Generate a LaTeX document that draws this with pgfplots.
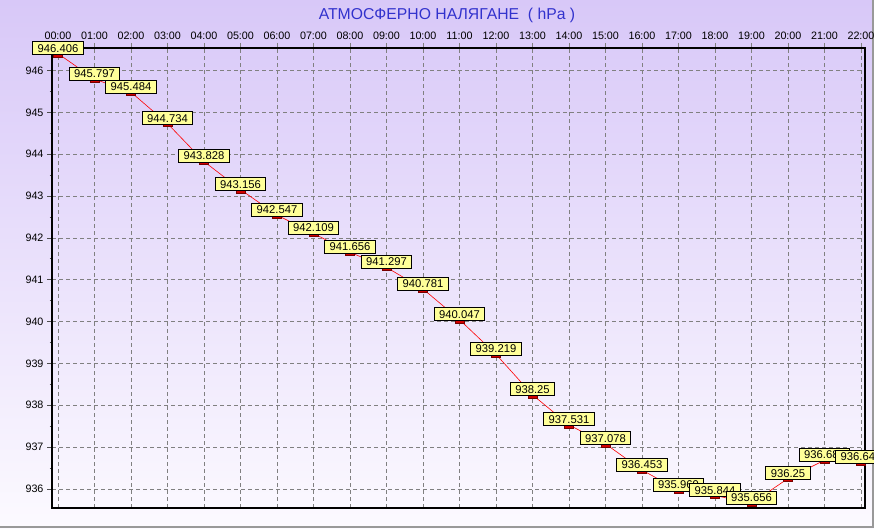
\documentclass[border=0pt]{standalone}
\usepackage{fontspec}
\setmainfont{Liberation Sans}
\usepackage{pgfplots}
\pgfplotsset{compat=1.18}
\usepackage{pgfplotstable}

\definecolor{bgtop}{RGB}{216,200,248}
\definecolor{bgbot}{RGB}{252,250,255}
\definecolor{titleblue}{RGB}{50,50,205}
\definecolor{boxyellow}{RGB}{255,255,153}
\definecolor{markred}{RGB}{210,0,0}
\definecolor{markdark}{RGB}{120,0,0}

\pgfplotstableread{
x y lab
0 946.406 946.406
1 945.797 945.797
2 945.484 945.484
3 944.734 944.734
4 943.828 943.828
5 943.156 943.156
6 942.547 942.547
7 942.109 942.109
8 941.656 941.656
9 941.297 941.297
10 940.781 940.781
11 940.047 940.047
12 939.219 939.219
13 938.25 938.25
14 937.531 937.531
15 937.078 937.078
16 936.453 936.453
17 935.969 935.969
18 935.844 935.844
19 935.656 935.656
20 936.25 936.25
21 936.688 936.688
22 936.641 936.641
}\pressure

\begin{document}
\begin{tikzpicture}
\useasboundingbox (0bp,0bp) rectangle (874bp,529bp);
\clip (0bp,0bp) rectangle (874bp,529bp);
\shade[top color=bgtop, bottom color=bgbot] (0bp,0bp) rectangle (874bp,529bp);
\draw[gray!80, line width=1.2bp] (0bp,2bp) -- (873bp,2bp) -- (873bp,529bp);
\node[text=titleblue, font=\fontsize{15.8}{18}\selectfont] at (447bp,514bp) {АТМОСФЕРНО НАЛЯГАНЕ~~( hPa )};
\begin{axis}[
  at={(52bp,21bp)}, anchor=south west,
  scale only axis, width=813bp, height=460bp,
  xmin=-0.164, xmax=22.11,
  ymin=935.545, ymax=946.54,
  clip=false,
  axis line style={black, line width=1.8bp},
  grid=major,
  major grid style={black!50, dash pattern=on 4bp off 3bp, line width=0.8bp},
  xtick={0,...,22},
  xticklabels={00:00,01:00,02:00,03:00,04:00,05:00,06:00,07:00,08:00,09:00,10:00,11:00,12:00,13:00,14:00,15:00,16:00,17:00,18:00,19:00,20:00,21:00,22:00},
  xtick pos=upper, xticklabel pos=upper,
  ytick={936,...,946},
  minor ytick={935.5,936.5,...,946.5},
  ytick pos=left,
  tick align=outside,
  major tick length=5bp, minor tick length=2.5bp,
  xtick style={black!50, line width=0.8bp},
  ytick style={black!70, line width=0.8bp},
  ticklabel style={font=\fontsize{10.8}{12}\selectfont},
  /pgf/number format/assume math mode=true,
  yticklabel style={/pgf/number format/1000 sep={}},
  every node near coord/.append style={anchor=south, fill=boxyellow, draw=black, line width=0.7bp,
     inner xsep=5bp, inner ysep=2.4bp, text height=8.2bp, text depth=0bp,
     font=\fontsize{11.3}{12}\selectfont, text=black},
]
\addplot[red, line width=0.6bp, mark=square*, mark size=2.3bp,
   mark options={fill=markred, draw=markdark, xscale=2, yscale=0.85, yshift=-1.5bp, solid},
   nodes near coords, point meta=explicit symbolic]
   table[x=x, y=y, meta=lab] {\pressure};
\end{axis}
\end{tikzpicture}
\end{document}
